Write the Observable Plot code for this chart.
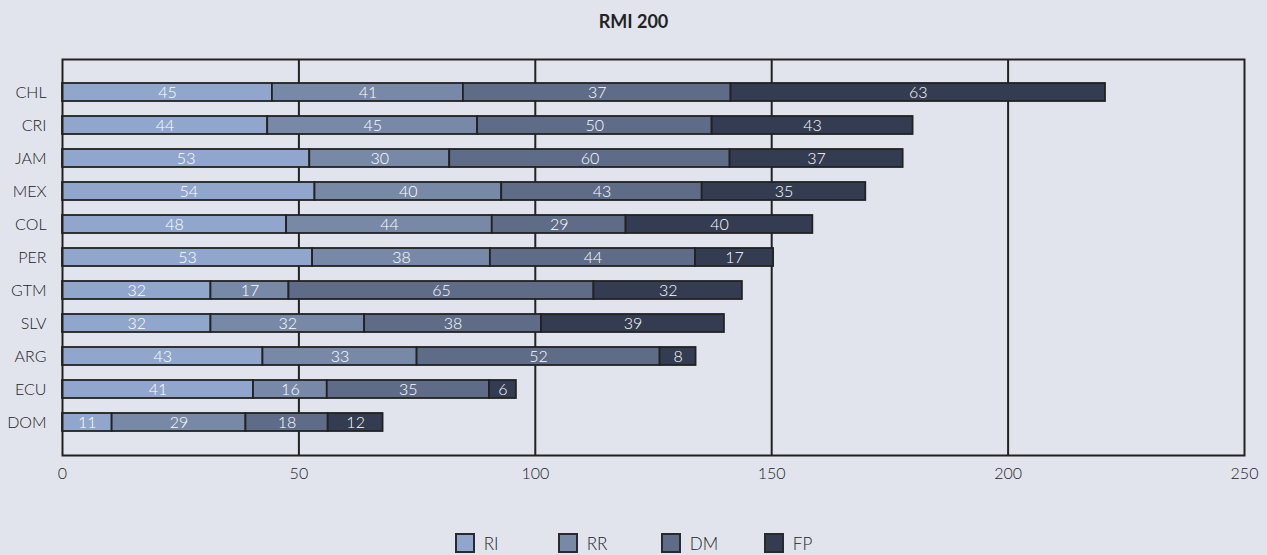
<!DOCTYPE html>
<html>
<head>
<meta charset="utf-8">
<script src="https://cdn.jsdelivr.net/npm/d3@7"></script>
<script src="https://cdn.jsdelivr.net/npm/@observablehq/plot@0.6"></script>
<style>
  html, body { margin: 0; padding: 0; }
  body { background: #e1e4ed; width: 1267px; height: 555px; overflow: hidden; font-family: Lato, "Open Sans", sans-serif; color: #222; }
  #title { height: 42px; line-height: 42px; text-align: center; font-weight: bold; font-size: 18px; color: #222; }
  #legend { position: relative; height: 20px; margin-top: 41px; display: flex; justify-content: center; font-size: 17px; font-weight: 300; }
  .item { display: flex; align-items: center; width: 103px; height: 20px; }
  .item:last-child { width: auto; }
  .sw { box-sizing: border-box; width: 20px; height: 20px; border: 2px solid #2a2a2e; margin-right: 9px; }
</style>
</head>
<body>
<div id="title">RMI 200</div>
<div id="chart"></div>
<div id="legend"></div>
<script>
// Categories (top to bottom)
const countries = ["CHL", "CRI", "JAM", "MEX", "COL", "PER", "GTM", "SLV", "ARG", "ECU", "DOM"];
const series = ["RI", "RR", "DM", "FP"];
const colors = ["#91a6cc", "#7889a8", "#5e6c88", "#333c50"];

// Segment lengths as drawn (in axis units)
const RI = [44.4, 43.4, 52.3, 53.4, 47.4, 52.9, 31.4, 31.4, 42.4, 40.4, 10.5];
const RR = [40.4, 44.4, 29.6, 39.5, 43.5, 37.6, 16.5, 32.5, 32.6, 15.6, 28.3];
const DM = [56.6, 49.6, 59.3, 42.4, 28.3, 43.4, 64.5, 37.4, 51.4, 34.3, 17.4];
const FP = [79.2, 42.5, 36.6, 34.6, 39.5, 16.5, 31.4, 38.7, 7.6, 5.7, 11.6];

// Printed labels inside the segments
const labelRI = [45, 44, 53, 54, 48, 53, 32, 32, 43, 41, 11];
const labelRR = [41, 45, 30, 40, 44, 38, 17, 32, 33, 16, 29];
const labelDM = [37, 50, 60, 43, 29, 44, 65, 38, 52, 35, 18];
const labelFP = [63, 43, 37, 35, 40, 17, 32, 39, 8, 6, 12];

const xTicks = [0, 50, 100, 150, 200, 250];
const gridLines = [50, 100, 150, 200];

const seriesValues = [RI, RR, DM, FP];
const seriesLabels = [labelRI, labelRR, labelDM, labelFP];

const rows = [];
countries.forEach((c, i) => {
  series.forEach((s, j) => {
    rows.push({country: c, series: s, value: seriesValues[j][i], label: seriesLabels[j][i]});
  });
});

const chart = Plot.plot({
  width: 1267,
  height: 450,
  marginLeft: 62,
  marginRight: 23,
  marginTop: 17,
  marginBottom: 37,
  style: {background: "transparent", fontFamily: "Lato, 'Open Sans', sans-serif", fontSize: "16px", fontWeight: 300, color: "#222"},
  x: {domain: [0, 250], ticks: xTicks, tickSize: 0, tickPadding: 12, label: null},
  y: {domain: countries, paddingInner: 0.46, paddingOuter: 0.69, tickSize: 0, tickPadding: 16, label: null},
  color: {domain: series, range: colors},
  marks: [
    Plot.ruleX(gridLines, {stroke: "#222", strokeWidth: 2}),
    Plot.barX(rows, Plot.stackX({x: "value", y: "country", fill: "series", z: "series", stroke: "#222", strokeWidth: 1.8})),
    Plot.text(rows, Plot.stackX({x: "value", y: "country", z: "series", text: "label", fill: "white", fontSize: 16})),
    Plot.frame({stroke: "#222", strokeWidth: 2})
  ]
});
document.getElementById("chart").appendChild(chart);

const legend = document.getElementById("legend");
series.forEach((s, j) => {
  const item = document.createElement("div");
  item.className = "item";
  const sw = document.createElement("div");
  sw.className = "sw";
  sw.style.background = colors[j];
  const t = document.createElement("span");
  t.textContent = s;
  item.appendChild(sw);
  item.appendChild(t);
  legend.appendChild(item);
});
</script>
</body>
</html>
